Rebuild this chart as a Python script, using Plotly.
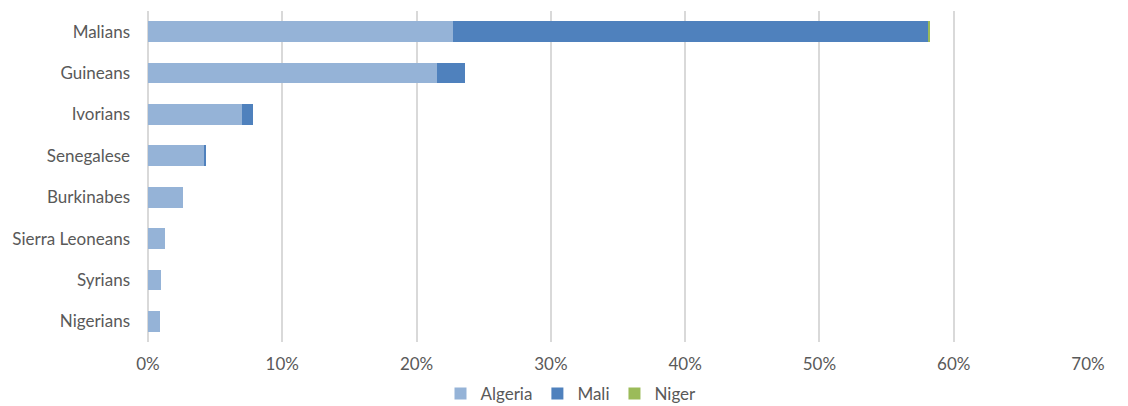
import plotly.graph_objects as go

categories = ["Malians", "Guineans", "Ivorians", "Senegalese", "Burkinabes",
              "Sierra Leoneans", "Syrians", "Nigerians"]
algeria = [22.7, 21.5, 7.0, 4.24, 2.6, 1.27, 0.97, 0.87]
mali = [35.4, 2.1, 0.8, 0.07, 0, 0, 0, 0]
niger = [0.15, 0, 0, 0, 0, 0, 0, 0]
tick_vals = [0, 10, 20, 30, 40, 50, 60, 70]
tick_text = ["0%", "10%", "20%", "30%", "40%", "50%", "60%", "70%"]

fig = go.Figure()
for name, vals, color in [("Algeria", algeria, "#95b3d7"),
                          ("Mali", mali, "#4f81bd"),
                          ("Niger", niger, "#9bbb59")]:
    fig.add_trace(go.Bar(y=categories, x=vals, name=name, orientation="h",
                         marker=dict(color=color, line=dict(width=0))))

fig.update_layout(
    barmode="stack",
    bargap=0.5,
    width=1120, height=398,
    margin=dict(l=140, r=40, t=3, b=64, autoexpand=False),
    plot_bgcolor="white", paper_bgcolor="white",
    font=dict(family="Lato, sans-serif", size=17, color="#595959"),
    xaxis=dict(range=[0, 70], tickvals=tick_vals, ticktext=tick_text,
               showgrid=True, gridcolor="#d9d9d9", gridwidth=2,
               zeroline=True, zerolinecolor="#d9d9d9", zerolinewidth=2,
               ticks="", ticklabelstandoff=10, automargin=False),
    yaxis=dict(categoryorder="array", categoryarray=categories[::-1],
               showgrid=False, ticks="", ticklabelstandoff=17, automargin=False),
    legend=dict(orientation="h", x=0.45, xanchor="center", y=-0.157, yanchor="middle",
                font=dict(size=17), traceorder="normal", itemwidth=30,
                tracegroupgap=0),
)

fig.write_html("out.html")
